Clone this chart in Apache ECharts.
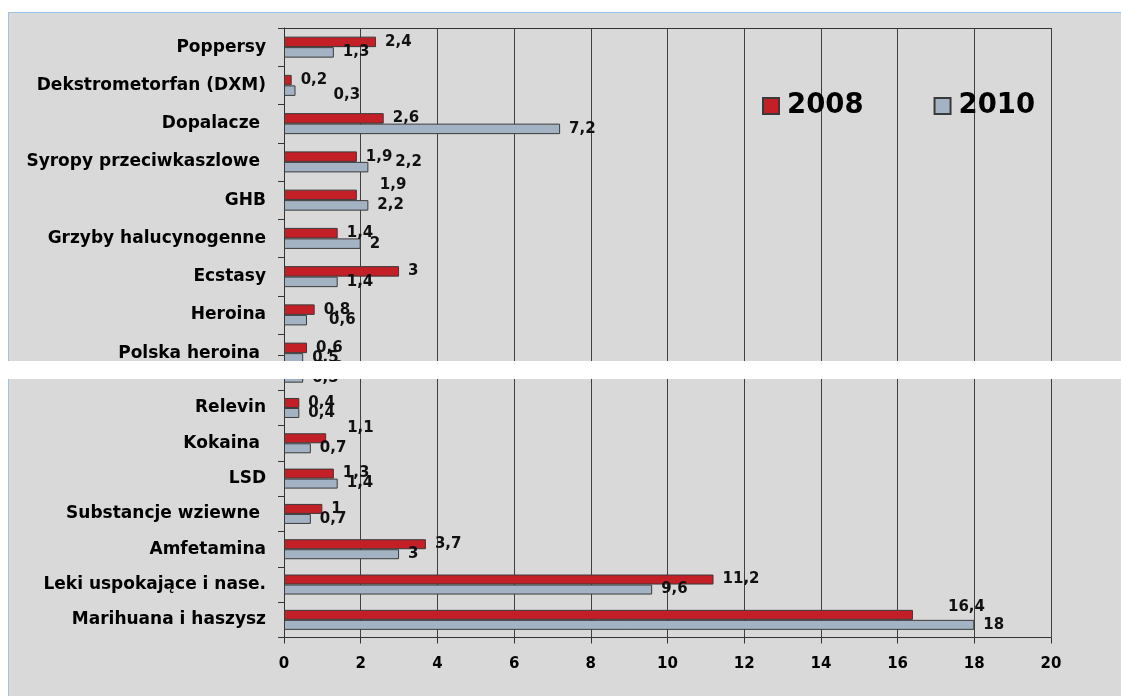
<!DOCTYPE html>
<html>
<head>
<meta charset="utf-8">
<script src="https://cdn.jsdelivr.net/npm/echarts@6/dist/echarts.min.js"></script>
<style>
  html, body { margin: 0; padding: 0; background: #ffffff; }
  #bg { position: absolute; left: 8px; top: 12px; width: 1113px; height: 684px;
        background: #D9D9D9; border-top: 1px solid #9DC3E6; border-left: 1px solid #9DC3E6; box-sizing: border-box; }
  #chart { position: absolute; left: 0; top: 0; width: 1121px; height: 696px; }
</style>
</head>
<body>
<div id="bg"></div>
<div id="chart"></div>
<script>
// ---- data ----
const categories = ['Poppersy', 'Dekstrometorfan (DXM)', 'Dopalacze ', 'Syropy przeciwkaszlowe ', 'GHB',
  'Grzyby halucynogenne', 'Ecstasy', 'Heroina', 'Polska heroina ', 'Relevin', 'Kokaina ', 'LSD',
  'Substancje wziewne ', 'Amfetamina', 'Leki uspokające i nase.', 'Marihuana i haszysz'];
const values2008 = [2.4, 0.2, 2.6, 1.9, 1.9, 1.4, 3, 0.8, 0.6, 0.4, 1.1, 1.3, 1, 3.7, 11.2, 16.4];
const values2010 = [1.3, 0.3, 7.2, 2.2, 2.2, 2, 1.4, 0.6, 0.5, 0.4, 0.7, 1.4, 0.7, 3, 9.6, 18];
const seriesNames = ['2008', '2010'];
const xMin = 0, xMax = 20, xStep = 2;

// ---- presentation ----
const splitAt = 8; // the picture is two stitched views; "Polska heroina" appears at the seam
const labelNudge = {
  'Dekstrometorfan (DXM)|2010': [29, 4],
  'Syropy przeciwkaszlowe |2010': [18, -5],
  'GHB|2008': [14, -10],
  'Heroina|2010': [13, 0],
  'Kokaina |2008': [12, -10],
  'Marihuana i haszysz|2008': [26, -8]
};
const FONT = 'DejaVu Sans';
const colors = { '2008': '#C21F27', '2010': '#A3B3C3' };
const edge = '#3a3a3a';

const topCats = categories.slice(0, splitAt + 1);
const botCats = categories.slice(splitAt);
const fmt = v => String(v).replace('.', ',');

function items(cats, vals, name) {
  return vals.map((v, i) => ({
    value: v,
    label: { offset: labelNudge[cats[i] + '|' + name] || [0, 0] }
  }));
}

function makeSeries(gridIdx, cats, v08, v10, bw) {
  return [[v08, '2008'], [v10, '2010']].map(([vals, name]) => ({
    type: 'bar', name: name,
    xAxisIndex: gridIdx, yAxisIndex: gridIdx,
    barWidth: bw, barGap: '0%',
    itemStyle: { color: colors[name], borderColor: edge, borderWidth: 1 },
    label: {
      show: true, position: 'right', distance: 9,
      formatter: p => fmt(p.value),
      fontFamily: FONT, fontWeight: 'bold', fontSize: 15, color: '#111'
    },
    data: items(cats, vals, name)
  }));
}

const xAxisBase = {
  type: 'value', min: xMin, max: xMax, interval: xStep,
  splitLine: { show: true, lineStyle: { color: '#404040', width: 1 } }
};
const yAxisBase = {
  type: 'category', inverse: true,
  axisLine: { show: true, lineStyle: { color: '#333' } },
  axisTick: { show: true, length: 6, lineStyle: { color: '#333' } },
  axisLabel: { fontFamily: FONT, fontWeight: 'bold', fontSize: 17, color: '#000', margin: 18 }
};

const chart = echarts.init(document.getElementById('chart'), null, { renderer: 'canvas' });
chart.setOption({
  animation: false,
  backgroundColor: 'transparent',
  textStyle: { fontFamily: FONT },
  legend: {
    data: seriesNames,
    left: 757, top: 87,
    itemWidth: 16, itemHeight: 16, itemGap: 70,
    icon: 'rect',
    textStyle: { fontFamily: FONT, fontWeight: 'bold', fontSize: 27.5, color: '#000', padding: [0, 0, 0, 3] }
  },
  grid: [
    { left: 284, right: 70, top: 28, height: 344.25 },
    { left: 284, right: 70, top: 355, height: 282.5 }
  ],
  xAxis: [
    Object.assign({}, xAxisBase, {
      gridIndex: 0, position: 'top',
      axisLine: { show: true, lineStyle: { color: '#333' } },
      axisTick: { show: false }, axisLabel: { show: false }
    }),
    Object.assign({}, xAxisBase, {
      gridIndex: 1, position: 'bottom',
      axisLine: { show: true, lineStyle: { color: '#333' } },
      axisTick: { show: true, length: 6, lineStyle: { color: '#333' } },
      axisLabel: { fontFamily: FONT, fontWeight: 'bold', fontSize: 15, color: '#000', margin: 19 }
    })
  ],
  yAxis: [
    Object.assign({}, yAxisBase, { gridIndex: 0, data: topCats }),
    Object.assign({}, yAxisBase, {
      gridIndex: 1, data: botCats,
      axisLabel: Object.assign({}, yAxisBase.axisLabel, { formatter: (v, i) => (i === 0 ? '' : v) })
    })
  ],
  series: [].concat(
    makeSeries(0, topCats, values2008.slice(0, splitAt + 1), values2010.slice(0, splitAt + 1), 10.5),
    makeSeries(1, botCats, values2008.slice(splitAt), values2010.slice(splitAt), 10)
  ),
  graphic: [
    { type: 'rect', z: 100, shape: { x: 0, y: 361, width: 1121, height: 18 }, style: { fill: '#ffffff' } }
  ]
});
</script>
</body>
</html>
